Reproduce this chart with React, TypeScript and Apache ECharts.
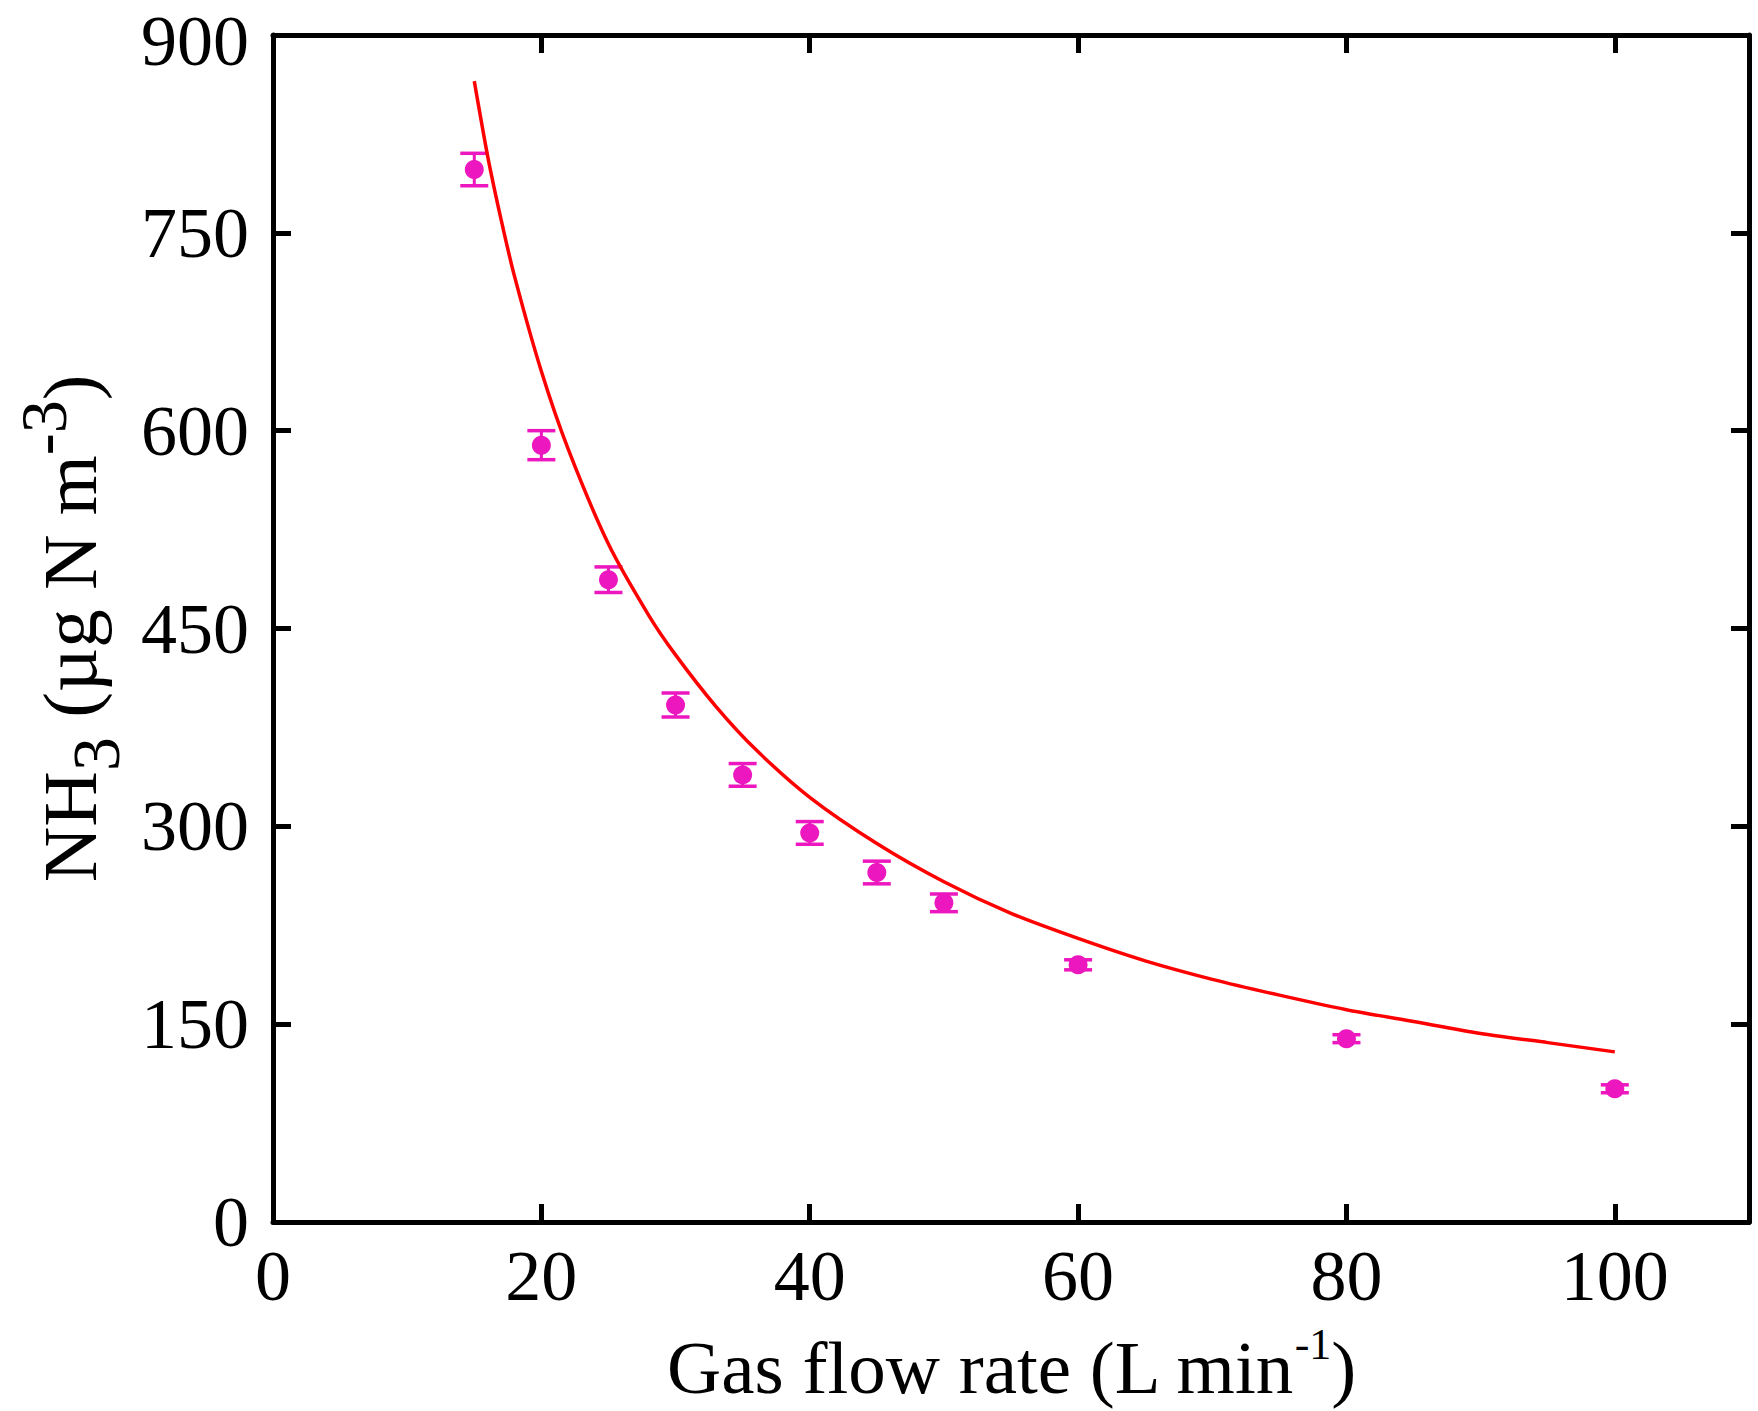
import React, { useEffect, useRef } from "react";
import * as echarts from "echarts";

// Measured points
const flowRates = [15, 20, 25, 30, 35, 40, 45, 50, 60, 80, 100];
const nh3Means = [798, 589, 487, 392, 339, 295, 265, 242, 195, 139, 101];
const nh3Errors = [12.3, 11, 9.7, 9.1, 8.6, 8.6, 8.6, 6.7, 3.8, 3, 3];

// Fitted curve
const fitX = [15, 16, 17, 18, 20, 22, 25, 28, 30, 33, 36, 40, 45, 50, 55, 60, 65, 70, 75, 80, 85, 90, 95, 100];
const fitY = [865, 808, 760, 717, 645, 586, 514, 460, 430, 391, 358, 322, 287, 258, 234, 215, 198, 184, 172, 161, 152, 143, 136, 129];

// Axes
const xMin = 0;
const xMax = 110;
const xStep = 20;
const yMin = 0;
const yMax = 900;
const yStep = 150;

const FONT = "'Liberation Serif', 'Times New Roman', serif";
const MAGENTA = "#EC17BE";
const RED = "#FF0000";

export default function App() {
  const ref = useRef<HTMLDivElement>(null);

  useEffect(() => {
    if (!ref.current) return;
    const chart = echarts.init(ref.current, null, { renderer: "svg" });

    const axisLine = { show: true, onZero: false, lineStyle: { color: "#000", width: 5 } };
    const axisTick = { show: true, inside: true, length: 18, lineStyle: { color: "#000", width: 5 } };

    const pointData = flowRates.map((x, i) => [x, nh3Means[i]]);
    const errData = flowRates.map((x, i) => [x, nh3Means[i], nh3Errors[i]]);
    const fitData = fitX.map((x, i) => [x, fitY[i]]);

    const option: any = {
      animation: false,
      backgroundColor: "#fff",
      grid: { left: 273, right: 9, top: 35, bottom: 189, containLabel: false, outerBoundsMode: "none" },
      xAxis: [
        {
          type: "value",
          position: "bottom",
          min: xMin,
          max: xMax,
          interval: xStep,
          axisLine,
          axisTick,
          splitLine: { show: false },
          axisLabel: {
            show: true,
            fontSize: 72,
            lineHeight: 60,
            fontFamily: FONT,
            color: "#000",
            margin: 24,
            showMaxLabel: false,
            formatter: (v: number) => (v > 100 ? "" : String(v)),
          },
          name: "{a|Gas flow rate (L min}{sup|-1}{a|)}",
          nameLocation: "middle",
          nameGap: 100,
          nameTextStyle: {
            fontFamily: FONT,
            color: "#000",
            rich: {
              a: { fontSize: 75, fontFamily: FONT, color: "#000", lineHeight: 90 },
              sup: { fontSize: 44, fontFamily: FONT, color: "#000", lineHeight: 48, verticalAlign: "top" },
            },
          },
        },
        {
          type: "value",
          position: "top",
          min: xMin,
          max: xMax,
          interval: xStep,
          axisLine,
          axisTick,
          splitLine: { show: false },
          axisLabel: { show: false },
        },
      ],
      yAxis: [
        {
          type: "value",
          position: "left",
          min: yMin,
          max: yMax,
          interval: yStep,
          axisLine,
          axisTick,
          splitLine: { show: false },
          axisLabel: {
            show: true,
            fontSize: 72,
            lineHeight: 60,
            fontFamily: FONT,
            color: "#000",
            margin: 24,
            formatter: (v: number) => (v >= yMax ? "{t|" + v + "}" : String(v)),
            rich: {
              t: { fontSize: 72, fontFamily: FONT, color: "#000", lineHeight: 60, padding: [12, 0, 0, 0] },
            },
          },
          name: "{a|NH}{sub|3}{a| (µg N m}{sup|-3}{a|)}",
          nameLocation: "middle",
          nameGap: 138,
          nameTextStyle: {
            fontFamily: FONT,
            color: "#000",
            rich: {
              a: { fontSize: 77, fontFamily: FONT, color: "#000", lineHeight: 120 },
              sub: { fontSize: 68, fontFamily: FONT, color: "#000", lineHeight: 96, verticalAlign: "bottom" },
              sup: { fontSize: 66, fontFamily: FONT, color: "#000", lineHeight: 60, verticalAlign: "top" },
            },
          },
        },
        {
          type: "value",
          position: "right",
          min: yMin,
          max: yMax,
          interval: yStep,
          axisLine,
          axisTick,
          splitLine: { show: false },
          axisLabel: { show: false },
        },
      ],
      series: [
        {
          type: "custom",
          name: "error",
          xAxisIndex: 0,
          yAxisIndex: 0,
          z: 2,
          data: errData,
          encode: { x: 0, y: 1 },
          renderItem: (params: any, api: any) => {
            const x = api.value(0);
            const y = api.value(1);
            const e = api.value(2);
            const top = api.coord([x, y + e]);
            const bot = api.coord([x, y - e]);
            const hw = 14;
            const style = { stroke: MAGENTA, lineWidth: 3.5 };
            return {
              type: "group",
              children: [
                { type: "line", shape: { x1: top[0], y1: top[1], x2: bot[0], y2: bot[1] }, style: { stroke: MAGENTA, lineWidth: 3 } },
                { type: "line", shape: { x1: top[0] - hw, y1: top[1], x2: top[0] + hw, y2: top[1] }, style },
                { type: "line", shape: { x1: bot[0] - hw, y1: bot[1], x2: bot[0] + hw, y2: bot[1] }, style },
              ],
            };
          },
        },
        {
          type: "scatter",
          name: "NH3",
          xAxisIndex: 0,
          yAxisIndex: 0,
          z: 3,
          symbol: "circle",
          symbolSize: 19,
          itemStyle: { color: MAGENTA, opacity: 1 },
          data: pointData,
        },
        {
          type: "line",
          name: "fit",
          xAxisIndex: 0,
          yAxisIndex: 0,
          z: 4,
          showSymbol: false,
          symbol: "none",
          smooth: 0.25,
          lineStyle: { color: RED, width: 3.5 },
          data: fitData,
        },
      ],
    };

    chart.setOption(option);
    return () => chart.dispose();
  }, []);

  return (
    <div
      ref={ref}
      style={{ position: "fixed", left: 0, top: 0, width: 1758, height: 1411, background: "#fff" }}
    />
  );
}
